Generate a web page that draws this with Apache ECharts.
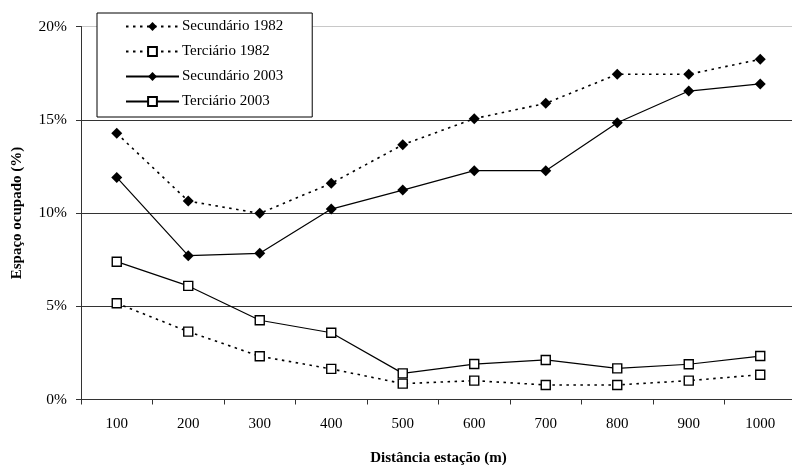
<!DOCTYPE html>
<html><head><meta charset="utf-8">
<script src="https://cdn.jsdelivr.net/npm/echarts@6/dist/echarts.min.js"></script>
<style>html,body{margin:0;padding:0;background:#fff}#c{width:792px;height:465px}</style>
</head><body><div id="c"></div>
<script>
var categories = ['100','200','300','400','500','600','700','800','900','1000'];
var secundario1982 = [14.27,10.64,9.98,11.59,13.66,15.06,15.88,17.44,17.44,18.24];
var terciario1982 = [5.16,3.64,2.32,1.64,0.85,1.01,0.78,0.78,1.01,1.33];
var secundario2003 = [11.91,7.71,7.84,10.21,11.23,12.27,12.27,14.84,16.54,16.92];
var terciario2003 = [7.39,6.09,4.25,3.58,1.40,1.90,2.12,1.67,1.89,2.33];
var seriesNames = ['Secundário 1982','Terciário 1982','Secundário 2003','Terciário 2003'];
var yTicks = [0,5,10,15,20];

var font = 'Liberation Serif';
var chart = echarts.init(document.getElementById('c'), null, {renderer:'canvas'});
function mk(name, data, symbol, dotted){
  return {
    name: name, type: 'line', data: data,
    symbol: symbol, symbolSize: symbol==='diamond' ? 11 : 9,
    showSymbol: true,
    itemStyle: symbol==='diamond' ? {color:'#000', borderColor:'#000', borderWidth:0}
                                  : {color:'#fff', borderColor:'#000', borderWidth:1.4},
    lineStyle: {color:'#000', width: dotted ? 1.6 : 1.2, type: dotted ? [2.5,4.5] : 'solid'},
    animation: false, z: symbol==='diamond'?3:2
  };
}
chart.setOption({
  backgroundColor: '#fff',
  animation: false,
  textStyle: {fontFamily: font},
  grid: {left: 81, top: 26.5, width: 715, height: 373, containLabel: false, outerBoundsMode: 'none'},
  legend: {
    orient: 'vertical', left: 97, top: 13,
    data: seriesNames,
    backgroundColor: '#fff', borderColor: '#000', borderWidth: 1,
    padding: [6, 29, 8, 28],
    itemWidth: 53, itemHeight: 11, itemGap: 10,
    textStyle: {fontFamily: font, fontSize: 15, color: '#000', padding:[0,0,0,-2]}
  },
  xAxis: {
    type: 'category', data: categories, boundaryGap: true,
    name: 'Distância estação (m)', nameLocation: 'middle', nameGap: 51,
    nameTextStyle: {fontFamily: font, fontSize: 15, fontWeight: 'bold', color: '#000'},
    axisLine: {lineStyle: {color: '#333', width: 1}},
    axisTick: {show: true, length: 5, lineStyle: {color: '#333'}},
    axisLabel: {fontFamily: font, fontSize: 15, color: '#000', margin: 17}
  },
  yAxis: {
    type: 'value', min: yTicks[0], max: yTicks[yTicks.length-1], interval: 5,
    name: 'Espaço ocupado (%)', nameLocation: 'middle', nameGap: 56, nameRotate: 90,
    nameTextStyle: {fontFamily: font, fontSize: 15, fontWeight: 'bold', color: '#000'},
    axisLine: {show: true, lineStyle: {color: '#333', width: 1}},
    axisTick: {show: true, length: 5, lineStyle: {color: '#333'}},
    axisLabel: {fontFamily: font, fontSize: 15.5, color: '#000', margin: 14, formatter: '{value}%'},
    splitLine: {show: true, lineStyle: {color: ['#000','#333','#333','#333','#c8c8c8'], width: 1}}
  },
  series: [
    mk(seriesNames[0], secundario1982, 'diamond', true),
    mk(seriesNames[1], terciario1982, 'rect', true),
    mk(seriesNames[2], secundario2003, 'diamond', false),
    mk(seriesNames[3], terciario2003, 'rect', false)
  ]
});
</script></body></html>
